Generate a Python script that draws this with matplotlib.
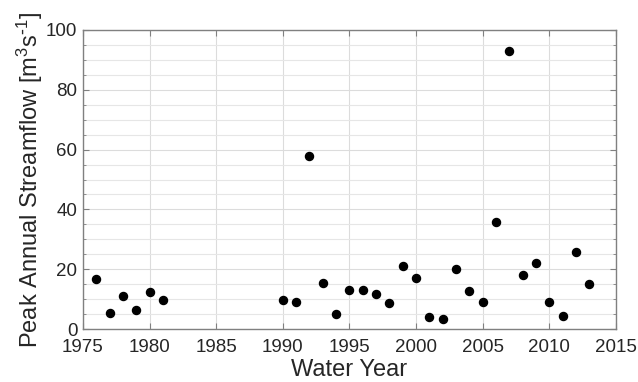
import matplotlib
matplotlib.use("Agg")
import matplotlib.pyplot as plt
from matplotlib.ticker import MultipleLocator

plt.rcParams["font.family"] = ["Liberation Sans", "DejaVu Sans"]
plt.rcParams["mathtext.default"] = "regular"

# peak annual streamflow by water year
years = [1976, 1977, 1978, 1979, 1980, 1981, 1990, 1991, 1992, 1993, 1994,
         1995, 1996, 1997, 1998, 1999, 2000, 2001, 2002, 2003, 2004, 2005,
         2006, 2007, 2008, 2009, 2010, 2011, 2012, 2013]
peak_flow = [16.6, 5.4, 11.1, 6.3, 12.3, 9.6, 9.8, 9.2, 57.8, 15.3, 4.9,
             12.9, 13.0, 11.6, 8.6, 21.1, 16.9, 4.1, 3.4, 20.2, 12.7, 9.2,
             35.8, 92.9, 18.1, 22.2, 9.0, 4.4, 25.7, 15.1]

fig = plt.figure(figsize=(6.38, 3.82), dpi=100)
ax = fig.add_axes([0.130, 0.1387, 0.8355, 0.7828])

ax.plot(years, peak_flow, "o", color="black", markersize=5.8, zorder=3)

ax.set_xlim(1975, 2015)
ax.set_ylim(0, 100)
ax.xaxis.set_major_locator(MultipleLocator(5))
ax.yaxis.set_major_locator(MultipleLocator(20))
ax.yaxis.set_minor_locator(MultipleLocator(5))

ax.grid(True, which="major", color="#dcdcdc", linewidth=0.8)
ax.grid(True, which="minor", axis="y", color="#e6e6e6", linewidth=0.8)
ax.set_axisbelow(True)

for side in ax.spines.values():
    side.set_color("#808080")
    side.set_linewidth(1.0)

ax.tick_params(which="both", direction="in", top=True, right=True,
               colors="#808080", labelcolor="#262626", labelsize=13.5)
ax.tick_params(which="major", length=4)
ax.tick_params(which="minor", length=2.5)
ax.tick_params(axis="x", which="major", pad=7.5)
ax.tick_params(axis="y", which="major", pad=4)

ax.set_xlabel("Water Year", fontsize=17, color="#262626", labelpad=2)
ax.set_ylabel(r"Peak Annual Streamflow [m$^3$s$^{\text{-}1}$]", fontsize=17,
              color="#262626", labelpad=1)

fig.savefig("out.png", dpi=100)
